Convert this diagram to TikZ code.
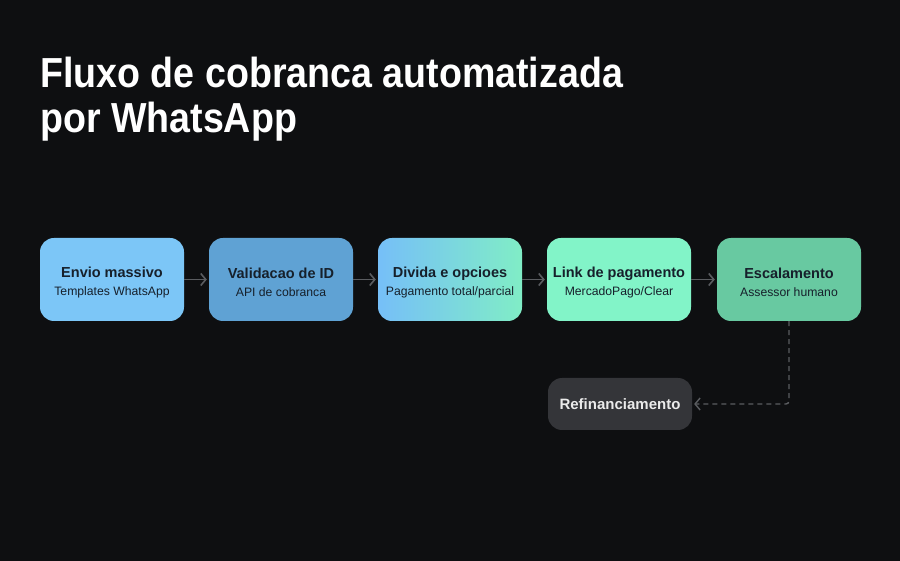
\documentclass[tikz,border=0pt]{standalone}
\usepackage{fontspec}
\setmainfont{Liberation Sans}
\usetikzlibrary{arrows.meta}
\definecolor{bgdark}{HTML}{0E0F11}
\definecolor{envioblue}{HTML}{7CC6F7}
\definecolor{validblue}{HTML}{5FA2D4}
\definecolor{dividaleft}{HTML}{76BFF8}
\definecolor{dividaright}{HTML}{80EDC6}
\definecolor{linkgreen}{HTML}{82F4C8}
\definecolor{escgreen}{HTML}{68C9A1}
\definecolor{refigray}{HTML}{343539}
\definecolor{arrowgray}{HTML}{5A5C60}
\definecolor{boxtext}{HTML}{16202B}
\tikzset{
  stepbox/.style={rectangle, rounded corners=14pt, minimum width=144pt, minimum height=83pt,
    align=center, text=boxtext, inner sep=0pt},
  flow/.style={draw=arrowgray, line width=1.6pt, shorten >=2pt, -{Straight Barb[length=5pt,width=12pt]}},
}
\newcommand{\boxlabel}[2]{{\fontsize{14.5}{20}\selectfont\bfseries\rule{0pt}{16.5pt}#1}\\[6.5pt]{\fontsize{12.2}{14}\selectfont #2}}
\begin{document}
\begin{tikzpicture}[x=1pt,y=1pt]
  \useasboundingbox (0,0) rectangle (900,560);
  \fill[bgdark] (-5,-5) rectangle (905,565);
  % title
  \node[anchor=base west, text=white, inner sep=0pt, font=\fontsize{42}{45}\selectfont\bfseries] (title1) at (40,472) {\scalebox{0.895}[1]{Fluxo de cobranca automatizada}};
  \node[anchor=base west, text=white, inner sep=0pt, font=\fontsize{42}{45}\selectfont\bfseries] (title2) at (40,427) {\scalebox{0.895}[1]{por WhatsApp}};
  % main row
  \node[stepbox, fill=envioblue] (envio) at (112,280.5) {\boxlabel{Envio massivo}{Templates WhatsApp}};
  \node[stepbox, fill=validblue] (valid) at (281,280.5) {\boxlabel{Validacao de ID}{API de cobranca}};
  \node[stepbox, left color=dividaleft, right color=dividaright] (divida) at (450,280.5) {\boxlabel{Divida e opcioes}{Pagamento total/parcial}};
  \node[stepbox, fill=linkgreen] (link) at (619,280.5) {\boxlabel{Link de pagamento}{MercadoPago/Clear}};
  \node[stepbox, fill=escgreen] (escal) at (789,280.5) {\boxlabel{Escalamento}{Assessor humano}};
  \node[stepbox, fill=refigray, minimum height=52pt, text=white!92!black, font=\fontsize{15}{18}\selectfont\bfseries] (refi) at (620,156) {Refinanciamento};
  % connectors
  \draw[flow] (envio) -- (valid);
  \draw[flow] (valid) -- (divida);
  \draw[flow] (divida) -- (link);
  \draw[flow] (link) -- (escal);
  \draw[flow, line width=1.4pt, dash pattern=on 5pt off 4pt, rounded corners=3pt] (escal.south) |- (refi.east);
\end{tikzpicture}
\end{document}
